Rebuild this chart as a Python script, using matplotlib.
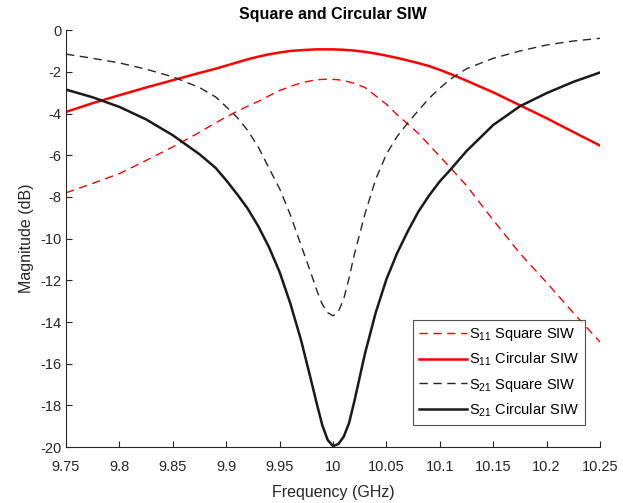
import numpy as np
import matplotlib
matplotlib.use("Agg")
import matplotlib.pyplot as plt

plt.rcParams['font.family'] = ['Liberation Sans', 'DejaVu Sans']
plt.rcParams['mathtext.fontset'] = 'custom'
plt.rcParams['mathtext.rm'] = 'Liberation Sans'
plt.rcParams['axes.unicode_minus'] = False

# Frequency points (GHz)
freq = [9.75, 9.775, 9.80, 9.825, 9.85, 9.875, 9.89, 9.90, 9.91, 9.92, 9.93, 9.94,
        9.95, 9.96, 9.97, 9.98, 9.985, 9.99, 9.995, 10.0, 10.005, 10.01, 10.015,
        10.02, 10.03, 10.04, 10.05, 10.06, 10.07, 10.08, 10.09, 10.10, 10.11,
        10.125, 10.15, 10.175, 10.2, 10.225, 10.25]

# S11 square SIW (dB)
s11_square = [-7.8, -7.35, -6.88, -6.25, -5.6, -4.9, -4.45, -4.16, -3.9, -3.65, -3.42, -3.15,
              -2.9, -2.7, -2.53, -2.42, -2.38, -2.36, -2.35, -2.36, -2.38, -2.42, -2.48,
              -2.55, -2.75, -3.15, -3.55, -4.05, -4.5, -4.95, -5.5, -6.05, -6.6,
              -7.45, -9.1, -10.7, -12.1, -13.55, -14.95]

# S11 circular SIW (dB)
s11_circ = [-3.92, -3.5, -3.12, -2.75, -2.4, -2.05, -1.85, -1.7, -1.55, -1.4, -1.27, -1.16,
            -1.07, -1.0, -0.96, -0.93, -0.92, -0.92, -0.92, -0.92, -0.93, -0.94, -0.96,
            -0.98, -1.04, -1.12, -1.22, -1.33, -1.45, -1.58, -1.72, -1.9, -2.1,
            -2.42, -2.98, -3.6, -4.22, -4.88, -5.53]

# S21 square SIW (dB)
s21_square = [-1.15, -1.35, -1.57, -1.87, -2.24, -2.75, -3.2, -3.67, -4.17, -4.8, -5.6, -6.61,
              -7.6, -8.85, -10.3, -11.75, -12.5, -13.15, -13.55, -13.7, -13.5, -12.9, -11.9,
              -10.75, -8.8, -7.15, -5.95, -5.1, -4.45, -3.85, -3.27, -2.78, -2.35,
              -1.85, -1.35, -1.0, -0.71, -0.52, -0.39]

# S21 circular SIW (dB)
s21_circ = [-2.85, -3.22, -3.68, -4.28, -5.04, -5.95, -6.6, -7.2, -7.85, -8.55, -9.4, -10.4,
            -11.6, -13.1, -14.85, -16.9, -17.95, -18.95, -19.65, -19.95, -19.85, -19.5, -18.85,
            -17.8, -15.5, -13.55, -11.95, -10.7, -9.65, -8.7, -7.93, -7.25, -6.69,
            -5.8, -4.55, -3.65, -3.02, -2.48, -2.03]

fig = plt.figure(figsize=(6.23, 5.03), dpi=100)
ax = fig.add_axes([0.106, 0.111, 0.857, 0.829])

ax.plot(freq, s11_square, color='red', linestyle=(0, (6, 4)), linewidth=1.0,
        label=r'S$_{11}$ Square SIW')
ax.plot(freq, s11_circ, color='red', linestyle='-', linewidth=1.8,
        label=r'S$_{11}$ Circular SIW')
ax.plot(freq, s21_square, color='#262626', linestyle=(0, (6, 4)), linewidth=1.0,
        label=r'S$_{21}$ Square SIW')
ax.plot(freq, s21_circ, color='#1a1a1a', linestyle='-', linewidth=1.8,
        label=r'S$_{21}$ Circular SIW')

ax.set_xlim(9.75, 10.25)
ax.set_ylim(-20, 0)
ax.set_xticks(np.arange(9.75, 10.26, 0.05))
ax.set_xticklabels(['9.75', '9.8', '9.85', '9.9', '9.95', '10', '10.05', '10.1',
                    '10.15', '10.2', '10.25'])
ax.set_yticks(np.arange(-20, 1, 2))

for side in ['top', 'right']:
    ax.spines[side].set_visible(False)
for side in ['left', 'bottom']:
    ax.spines[side].set_color('#262626')
    ax.spines[side].set_linewidth(0.8)
ax.tick_params(direction='in', length=4, width=0.8, colors='#262626',
               labelsize=10.5, labelcolor='#262626')
ax.tick_params(axis='x', pad=9)

ax.set_xlabel('Frequency (GHz)', fontsize=11.5, color='#262626', labelpad=8)
ax.set_ylabel('Magnitude (dB)', fontsize=11.5, color='#262626')
ax.set_title('Square and Circular SIW', fontsize=11.5, fontweight='bold', pad=8)

leg = ax.legend(loc='lower right', bbox_to_anchor=(0.972, 0.053), fontsize=10.5,
                frameon=True, fancybox=False, handlelength=3.3, borderpad=0.4,
                labelspacing=0.55, handletextpad=0.15, borderaxespad=0)
leg.get_frame().set_edgecolor('#262626')
leg.get_frame().set_linewidth(0.8)

fig.savefig('out.png', dpi=100)
